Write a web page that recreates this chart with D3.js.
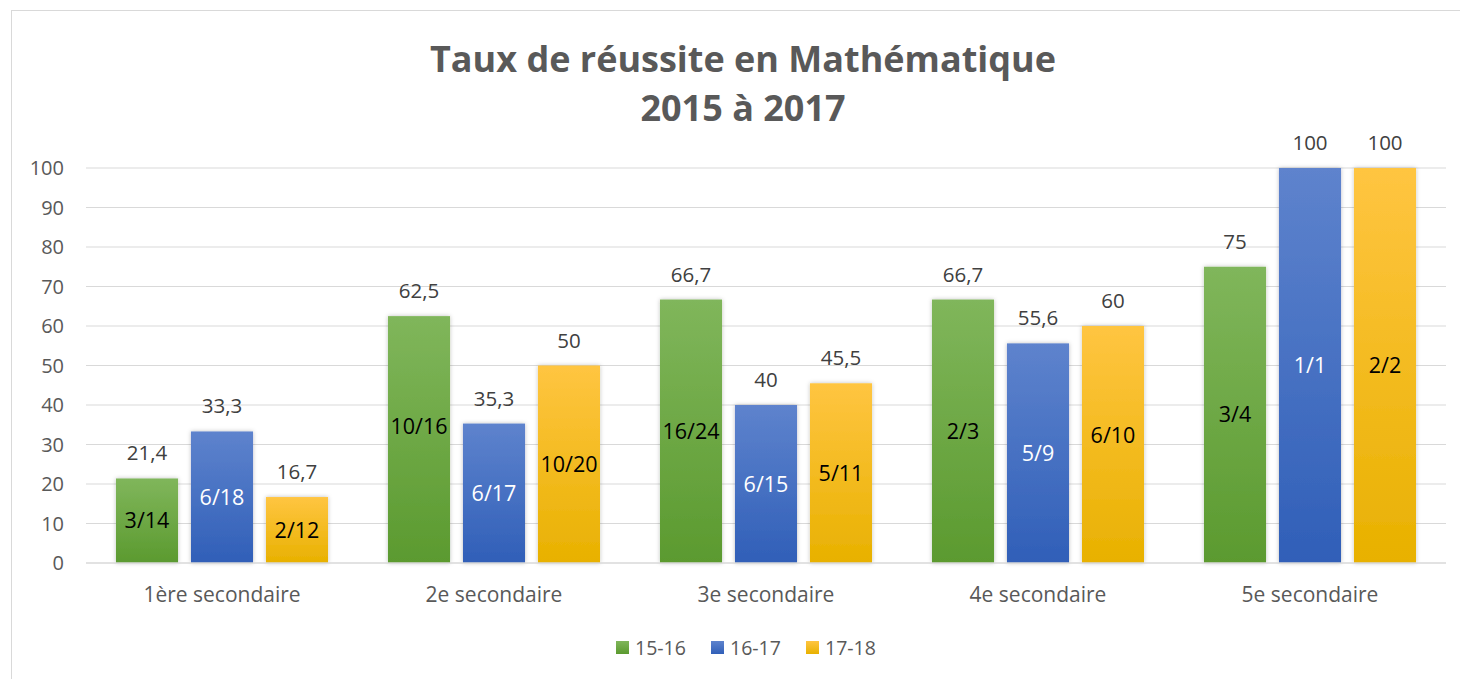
<!DOCTYPE html>
<html>
<head>
<meta charset="utf-8">
<script src="https://cdn.jsdelivr.net/npm/d3@7"></script>
<style>
  body { margin: 0; background: #fff; }
  text { font-family: "Open Sans", Lato, sans-serif; }
</style>
</head>
<body>
<svg id="chart-area"></svg>
<script>
// data
const categories = ["1ère secondaire", "2e secondaire", "3e secondaire", "4e secondaire", "5e secondaire"]
const seriesNames = ["15-16", "16-17", "17-18"]
const values1516 = [21.4, 62.5, 66.7, 66.7, 75]
const values1617 = [33.3, 35.3, 40, 55.6, 100]
const values1718 = [16.7, 50, 45.5, 60, 100]
const ratios1516 = ["3/14", "10/16", "16/24", "2/3", "3/4"]
const ratios1617 = ["6/18", "6/17", "6/15", "5/9", "1/1"]
const ratios1718 = ["2/12", "10/20", "5/11", "6/10", "2/2"]
const yTicks = [0, 10, 20, 30, 40, 50, 60, 70, 80, 90, 100]

const series = [
    { name: seriesNames[0], values: values1516, ratios: ratios1516, top: "#80b65b", bottom: "#5b9a2f", inner: "#000" },
    { name: seriesNames[1], values: values1617, ratios: ratios1617, top: "#5e83cd", bottom: "#305fb8", inner: "#fff" },
    { name: seriesNames[2], values: values1718, ratios: ratios1718, top: "#ffc541", bottom: "#e8b100", inner: "#000" }
]

// a couple of inner labels were moved by hand in the original
const ratioNudge = { "2e secondaire|15-16": -13, "4e secondaire|17-18": -9 }

const rows = []
categories.forEach((c, i) => {
    series.forEach((s, j) => {
        rows.push({ cat: c, key: s.name, value: s.values[i], ratio: s.ratios[i], s: s, j: j })
    })
})

const width = 1460
const height = 679

const svg = d3.select("#chart-area")
    .attr("width", width)
    .attr("height", height)

// frame
svg.append("rect")
    .attr("x", 11.5).attr("y", 10.5)
    .attr("width", width + 10).attr("height", height + 10)
    .attr("fill", "#fff")
    .attr("stroke", "#d9d9d9")

const defs = svg.append("defs")
series.forEach((s, j) => {
    const g = defs.append("linearGradient")
        .attr("id", "grad" + j)
        .attr("x1", 0).attr("y1", 0).attr("x2", 0).attr("y2", 1)
    g.append("stop").attr("offset", "0%").attr("stop-color", s.top)
    g.append("stop").attr("offset", "100%").attr("stop-color", s.bottom)
})
const filter = defs.append("filter").attr("id", "shadow")
    .attr("x", "-20%").attr("y", "-5%").attr("width", "140%").attr("height", "110%")
filter.append("feDropShadow")
    .attr("dx", 0).attr("dy", 0).attr("stdDeviation", 2)
    .attr("flood-color", "#000").attr("flood-opacity", 0.25)

const x = d3.scaleBand()
    .domain(categories)
    .range([86, 1446])

const x1 = d3.scaleBand()
    .domain(seriesNames)
    .range([0, x.bandwidth()])
    .paddingInner(0.173)
    .paddingOuter(0.4)

const y = d3.scaleLinear()
    .domain([0, 100])
    .range([563, 168])

// gridlines
svg.append("g")
    .selectAll("line")
    .data(yTicks.slice(1))
    .enter().append("line")
    .attr("x1", 86).attr("x2", 1446)
    .attr("y1", d => y(d)).attr("y2", d => y(d))
    .attr("stroke", "#d9d9d9")
    .attr("stroke-width", 1.2)

// y labels
svg.append("g")
    .selectAll("text")
    .data(yTicks)
    .enter().append("text")
    .attr("x", 64)
    .attr("y", d => y(d))
    .attr("dy", "0.35em")
    .attr("text-anchor", "end")
    .attr("font-size", 20)
    .attr("fill", "#595959")
    .text(d => d)

// bars
svg.append("g")
    .selectAll("rect")
    .data(rows)
    .enter().append("rect")
    .attr("x", d => x(d.cat) + x1(d.key))
    .attr("width", x1.bandwidth())
    .attr("y", d => y(d.value))
    .attr("height", d => y(0) - y(d.value))
    .attr("fill", d => `url(#grad${d.j})`)
    .attr("filter", "url(#shadow)")

// axis line
svg.append("line")
    .attr("x1", 86).attr("x2", 1446)
    .attr("y1", y(0)).attr("y2", y(0))
    .attr("stroke", "#d9d9d9")
    .attr("stroke-width", 1.5)

// value labels above
svg.append("g")
    .selectAll("text")
    .data(rows)
    .enter().append("text")
    .attr("x", d => x(d.cat) + x1(d.key) + x1.bandwidth() / 2)
    .attr("y", d => y(d.value) - 18)
    .attr("text-anchor", "middle")
    .attr("font-size", 20.5)
    .attr("fill", "#404040")
    .text(d => String(d.value).replace(".", ","))

// ratio labels inside
svg.append("g")
    .selectAll("text")
    .data(rows)
    .enter().append("text")
    .attr("x", d => x(d.cat) + x1(d.key) + x1.bandwidth() / 2)
    .attr("y", d => (y(d.value) + y(0)) / 2 + (ratioNudge[d.cat + "|" + d.key] || 0))
    .attr("dy", "0.35em")
    .attr("text-anchor", "middle")
    .attr("font-size", 21.5)
    .attr("fill", d => d.s.inner)
    .text(d => d.ratio)

// category labels
svg.append("g")
    .selectAll("text")
    .data(categories)
    .enter().append("text")
    .attr("x", d => x(d) + x.bandwidth() / 2)
    .attr("y", 602)
    .attr("text-anchor", "middle")
    .attr("font-size", 21)
    .attr("fill", "#595959")
    .text(d => d)

// title
const title = svg.append("text")
    .attr("x", 743)
    .attr("text-anchor", "middle")
    .attr("font-size", 36)
    .attr("font-weight", "bold")
    .attr("fill", "#595959")
title.append("tspan").attr("x", 743).attr("y", 72).text("Taux de réussite en Mathématique")
title.append("tspan").attr("x", 743).attr("y", 121).text("2015 à 2017")

// legend
const legendX = [616, 711, 806]
const legend = svg.append("g")
    .selectAll("g")
    .data(series)
    .enter().append("g")
    .attr("transform", (d, i) => `translate(${legendX[i]},641)`)
legend.append("rect")
    .attr("width", 13).attr("height", 13)
    .attr("fill", (d, i) => `url(#grad${i})`)
legend.append("text")
    .attr("x", 19)
    .attr("y", 7)
    .attr("dy", "0.35em")
    .attr("font-size", 19.5)
    .attr("fill", "#595959")
    .text(d => d.name)
</script>
</body>
</html>
